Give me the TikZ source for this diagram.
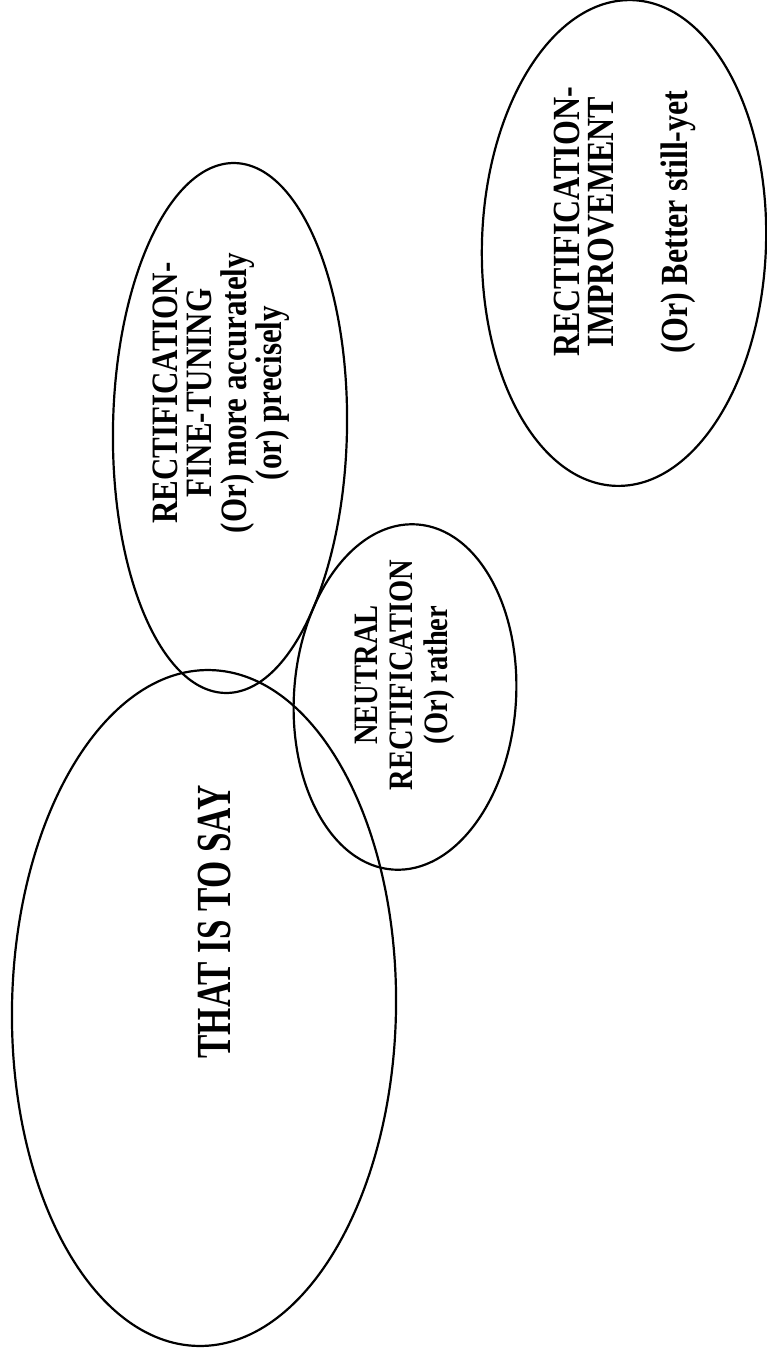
\documentclass[tikz,border=0pt]{standalone}
\usepackage{fontspec}
\setmainfont{Liberation Serif}
\usetikzlibrary{shapes.geometric}
\tikzset{
  bubble/.style={draw, line width=2.2pt, ellipse, inner sep=0pt},
  label/.style={rotate=90, align=center, inner sep=0pt}
}
\begin{document}
\begin{tikzpicture}[x=1pt, y=-1pt]
  \useasboundingbox (0,0) rectangle (767,1362);
  % outlines
  \node[bubble, rotate=-1, minimum width=384pt, minimum height=676pt] (say) at (204,1008) {};
  \node[bubble, rotate=-1, minimum width=234pt, minimum height=530pt] (fine) at (230,428) {};
  \node[bubble, rotate=-4, minimum width=222pt, minimum height=346pt] (neutral) at (405,697) {};
  \node[bubble, rotate=-2, minimum width=284pt, minimum height=486pt] (improve) at (624,243) {};
  % texts
  \node[label, yscale=1.4, font=\bfseries\fontsize{35}{40}\selectfont] (saytext) at (215,922) {THAT IS TO SAY};
  \node[label, yscale=1.2, font=\bfseries\fontsize{31}{29}\selectfont] (finetext) at (221,393)
    {RECTIFICATION-\\FINE-TUNING\\(Or) more accurately\\(or) precisely};
  \node[label, yscale=1.2, font=\bfseries\fontsize{28.5}{29}\selectfont] (neutraltext) at (405,675)
    {NEUTRAL\\RECTIFICATION\\(Or) rather};
  \node[label, yscale=1.2, font=\bfseries\fontsize{32}{28}\selectfont] (improvetext) at (625,222)
    {RECTIFICATION-\\IMPROVEMENT\\[34pt](Or) Better still-yet};
\end{tikzpicture}
\end{document}
